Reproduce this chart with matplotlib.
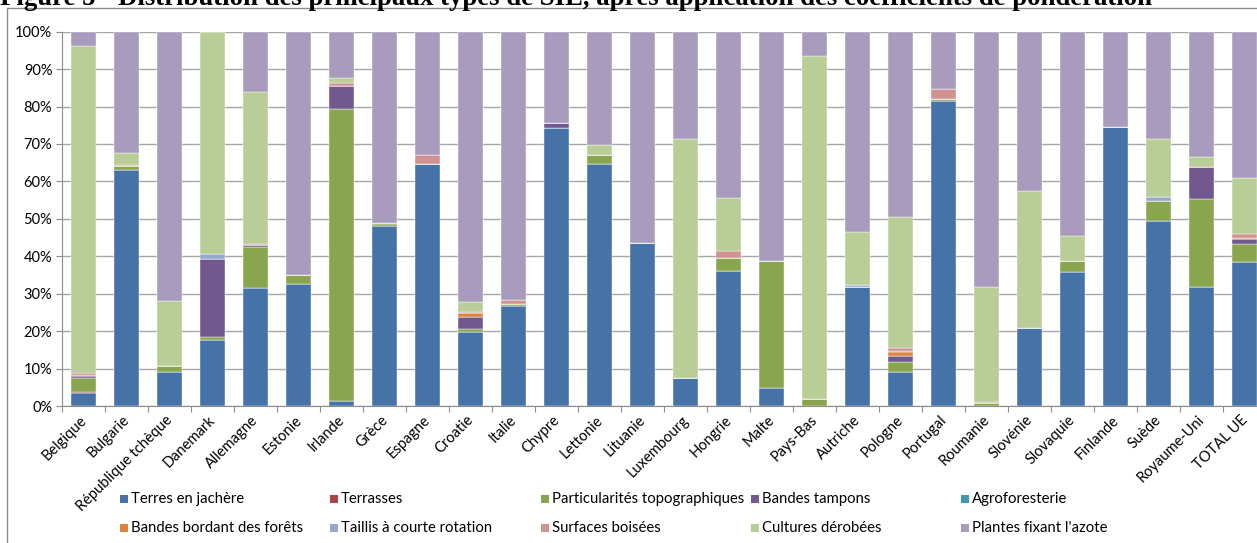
import matplotlib
matplotlib.use("Agg")
import matplotlib.pyplot as plt
from matplotlib.patches import Rectangle
import numpy as np

plt.rcParams["font.family"] = ["Lato", "DejaVu Sans"]

# Répartition (%) des types de SIE par pays
pays = ["Belgique", "Bulgarie", "République tchèque", "Danemark", "Allemagne",
        "Estonie", "Irlande", "Grèce", "Espagne", "Croatie", "Italie", "Chypre",
        "Lettonie", "Lituanie", "Luxembourg", "Hongrie", "Malte", "Pays-Bas",
        "Autriche", "Pologne", "Portugal", "Roumanie", "Slovénie", "Slovaquie",
        "Finlande", "Suède", "Royaume-Uni", "TOTAL UE"]

jachere = [3.6, 63.0, 9.2, 17.7, 31.6, 32.7, 1.3, 48.2, 64.6, 19.7, 26.7, 74.4, 64.7, 43.5,
           7.6, 36.0, 4.7, 0.0, 31.9, 9.2, 81.6, 0.0, 20.8, 35.9, 74.6, 49.3, 31.7, 38.6]
terrasses = [0.2, 0, 0, 0, 0, 0, 0, 0, 0, 0, 0, 0, 0, 0,
             0, 0, 0, 0, 0, 0, 0, 0, 0, 0, 0, 0, 0, 0]
topo = [3.6, 1.0, 1.5, 0.7, 10.8, 2.4, 78.0, 0.4, 0, 0.8, 0.5, 0, 2.3, 0,
        0, 3.6, 34.0, 1.9, 0, 2.6, 0.5, 0.9, 0, 2.8, 0, 5.5, 23.7, 4.8]
tampons = [0.5, 0, 0, 21.0, 0.6, 0, 6.1, 0.3, 0, 3.3, 0, 1.2, 0, 0,
           0, 0, 0, 0, 0, 1.5, 0, 0, 0, 0, 0, 0, 8.5, 1.3]
agroforesterie = [0, 0, 0, 0, 0, 0, 0, 0, 0, 0, 0, 0, 0, 0,
                  0, 0, 0, 0, 0, 0, 0, 0, 0, 0, 0, 0, 0, 0]
forets = [0.5, 0, 0, 0, 0, 0, 0, 0, 0, 1.0, 0, 0, 0, 0,
          0, 0, 0, 0, 0, 1.1, 0, 0, 0, 0, 0, 0, 0, 0.3]
taillis = [0, 0, 0, 1.1, 0, 0, 0.2, 0, 0, 0, 0, 0, 0, 0,
           0, 0, 0, 0, 0.4, 0.2, 0, 0, 0, 0, 0, 1.1, 0, 0]
boisees = [0.3, 0.3, 0, 0, 0.4, 0, 0.8, 0, 2.5, 0.3, 1.1, 0, 0, 0,
           0, 1.9, 0, 0, 0, 1.0, 2.7, 0.3, 0, 0, 0, 0, 0, 1.0]
cultures = [87.5, 3.4, 17.3, 59.5, 40.4, 0, 1.2, 0, 0, 2.7, 0, 0, 2.8, 0,
            63.6, 14.1, 0, 91.5, 14.1, 35.0, 0, 30.5, 36.6, 6.8, 0, 15.5, 2.6, 14.8]
azote = [3.8, 32.3, 72.0, 0, 16.2, 64.9, 12.4, 51.1, 32.9, 72.2, 71.7, 24.4, 30.2, 56.5,
         28.8, 44.4, 61.3, 6.6, 53.6, 49.4, 15.2, 68.3, 42.6, 54.5, 25.4, 28.6, 33.5, 39.2]

series = [
    ("Terres en jachère", jachere, "#4572A7"),
    ("Terrasses", terrasses, "#AA4643"),
    ("Particularités topographiques", topo, "#89A54E"),
    ("Bandes tampons", tampons, "#71588F"),
    ("Agroforesterie", agroforesterie, "#4198AF"),
    ("Bandes bordant des forêts", forets, "#DB843D"),
    ("Taillis à courte rotation", taillis, "#93A9CF"),
    ("Surfaces boisées", boisees, "#D19392"),
    ("Cultures dérobées", cultures, "#B9CD96"),
    ("Plantes fixant l'azote", azote, "#A99BBD"),
]

W, H = 1257, 543
fig = plt.figure(figsize=(W / 100, H / 100), dpi=100)

# cadre du graphique (coupé à droite et en bas comme dans la source)
fig.patches.append(Rectangle((7 / W, -0.05), 1.1, 1 - 8 / H + 0.05,
                             transform=fig.transFigure, fill=False,
                             edgecolor="#8C8C8C", linewidth=1.0))

ax = fig.add_axes([62 / W, 1 - 406 / H, 1204 / W, (406 - 31.7) / H])
x = np.arange(len(pays))
bottom = np.zeros(len(pays))
for nom, vals, col in series:
    v = np.array(vals, dtype=float)
    ax.bar(x, v, 0.6, bottom=bottom, color=col, edgecolor="white",
           linewidth=0.3, zorder=3, label=nom)
    bottom += v

ax.set_xlim(-0.5, len(pays) - 0.5)
ax.set_ylim(0, 100)
ax.set_yticks(np.arange(0, 101, 10))
ax.set_yticklabels([f"{t}%" for t in range(0, 101, 10)], fontsize=10.5)
ax.yaxis.grid(True, color="#A6A6A6", linewidth=1.0, zorder=0)
ax.tick_params(axis="y", length=4, color="#8C8C8C", pad=3)

ax.set_xticks(np.arange(-0.5, len(pays), 1.0))
ax.set_xticklabels([])
ax.tick_params(axis="x", length=4, color="#8C8C8C")
for i, p in enumerate(pays):
    ax.annotate(p, (i, 0), xytext=(-3, -5), textcoords="offset points",
                rotation=45, ha="right", va="top", rotation_mode="anchor",
                fontsize=10.5)

for s in ["top", "right"]:
    ax.spines[s].set_visible(False)
for s in ["left", "bottom"]:
    ax.spines[s].set_color("#8C8C8C")

# légende en deux lignes
col_x = [120, 330, 541, 751, 961]
row_y = [499, 528]
for k, (nom, vals, col) in enumerate(series):
    r, c = divmod(k, 5)
    cx, cy = col_x[c], row_y[r]
    fig.patches.append(Rectangle((cx / W, 1 - (cy + 4) / H), 8 / W, 8 / H,
                                 transform=fig.transFigure, facecolor=col,
                                 edgecolor="none"))
    fig.text((cx + 11) / W, 1 - cy / H, nom, fontsize=10.7, va="center", ha="left")

fig.text(0, 1 - 5 / H,
         "Figure 5 - Distribution des principaux types de SIE, après application "
         "des coefficients de pondération",
         fontsize=19.3, fontweight="bold", family="Liberation Serif",
         va="baseline", ha="left")

fig.savefig("out.png", dpi=100)
